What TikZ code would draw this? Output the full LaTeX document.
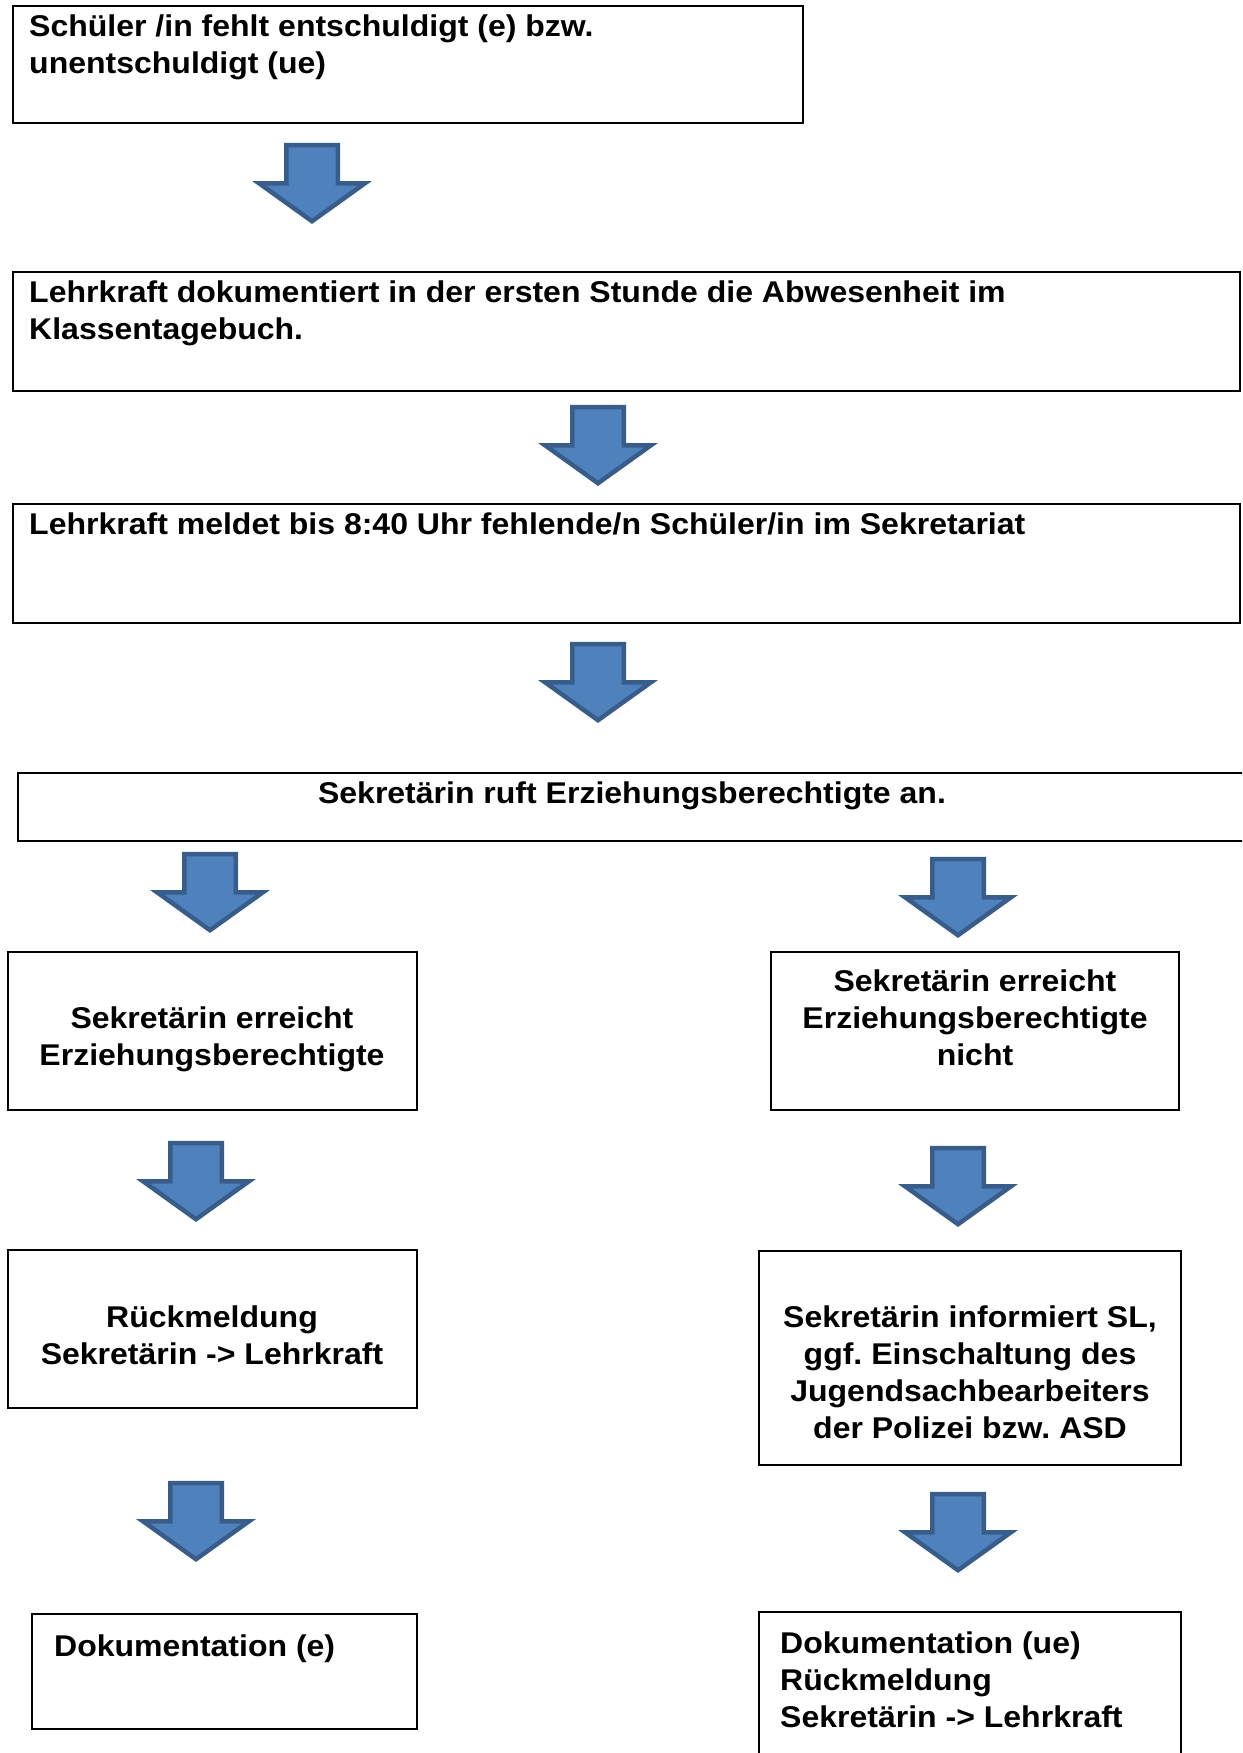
\documentclass[tikz,border=0pt]{standalone}
\usepackage{fontspec}
\setmainfont{Liberation Sans}[FakeStretch=1.067]
\definecolor{arrfill}{HTML}{4F81BD}
\definecolor{arrline}{HTML}{385D8A}
\frenchspacing
\begin{document}
\begin{tikzpicture}[x=1pt,y=-1pt,
  box/.style={draw=black, line width=2.5pt, rectangle, inner sep=0pt, outer sep=0pt, anchor=north west},
  txt/.style={inner sep=0pt, font=\fontsize{30}{37}\selectfont\bfseries\frenchspacing},
  txtl/.style={txt, align=left, anchor=north west},
  txtc/.style={txt, align=center, anchor=north},
  blockarrow/.pic={\draw[fill=arrfill, draw=arrline, line width=4.5pt, line join=miter]
     (-25.75,-79) -- (25.75,-79) -- (25.75,-40.75) -- (53,-40.75) -- (0,-2.8)
     -- (-53,-40.75) -- (-25.75,-40.75) -- cycle;}
]
\useasboundingbox (0,0) rectangle (1242,1753);
\clip (0,0) rectangle (1242,1753);

% boxes
\node[box, minimum width=790pt, minimum height=117pt] (b1) at (13,6) {};
\node[box, minimum width=1227pt, minimum height=119pt] (b2) at (13,272) {};
\node[box, minimum width=1227pt, minimum height=119pt] (b3) at (13,504) {};
\node[box, minimum width=1232pt, minimum height=68pt] (b4) at (18,773) {};
\node[box, minimum width=409pt, minimum height=158pt] (b5l) at (8,952) {};
\node[box, minimum width=408pt, minimum height=158pt] (b5r) at (771,952) {};
\node[box, minimum width=409pt, minimum height=158pt] (b7l) at (8,1250) {};
\node[box, minimum width=422pt, minimum height=214pt] (b7r) at (759,1251) {};
\node[box, minimum width=385pt, minimum height=115pt] (b9l) at (32,1614) {};
\node[box, minimum width=422pt, minimum height=160pt] (b9r) at (759,1612) {};

% texts
\node[txtl] (t1) at (29,10.1) {\strut Schüler /in fehlt entschuldigt (e) bzw.\\unentschuldigt (ue)};
\node[txtl] (t2) at (29,276.1) {\strut Lehrkraft dokumentiert in der ersten Stunde die Abwesenheit im\\Klassentagebuch.};
\node[txtl] (t3) at (29,508.1) {\strut Lehrkraft meldet bis 8:40 Uhr fehlende/n Schüler/in im Sekretariat};
\node[txtc] (t4) at (632,777.1) {\strut Sekretärin ruft Erziehungsberechtigte an.};
\node[txtc] (t5l) at (212,1002.1) {\strut Sekretärin erreicht\\Erziehungsberechtigte};
\node[txtc] (t5r) at (975,965.1) {\strut Sekretärin erreicht\\Erziehungsberechtigte\\nicht};
\node[txtc] (t7l) at (212,1301.1) {\strut Rückmeldung\\Sekretärin -> Lehrkraft};
\node[txtc] (t7r) at (970,1301.1) {\strut Sekretärin informiert SL,\\ggf. Einschaltung des\\Jugendsachbearbeiters\\der Polizei bzw. ASD};
\node[txtl] (t9l) at (54,1630.1) {\strut Dokumentation (e)};
\node[txtl] (t9r) at (780,1627.1) {\strut Dokumentation (ue)\\Rückmeldung\\Sekretärin -> Lehrkraft};

% block arrows
\pic (a1) at (312,224) {blockarrow};
\pic (a2) at (598,486) {blockarrow};
\pic (a3) at (598,723) {blockarrow};
\pic (a4l) at (210,933) {blockarrow};
\pic (a4r) at (958,938) {blockarrow};
\pic (a6l) at (196,1222) {blockarrow};
\pic (a6r) at (958,1227) {blockarrow};
\pic (a8l) at (196,1562) {blockarrow};
\pic (a8r) at (958,1573) {blockarrow};
\end{tikzpicture}
\end{document}
